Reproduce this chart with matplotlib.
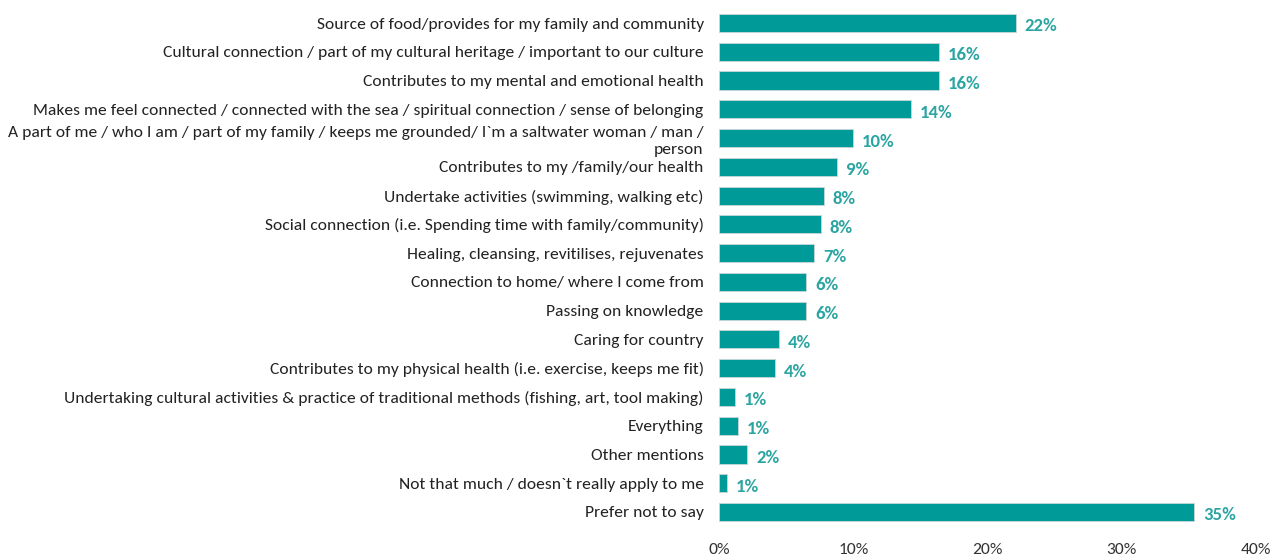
import matplotlib
matplotlib.use("Agg")
import matplotlib.pyplot as plt

# Survey responses and their shares (percent)
kategori = [
    "Source of food/provides for my family and community",
    "Cultural connection / part of my cultural heritage / important to our culture",
    "Contributes to my mental and emotional health",
    "Makes me feel connected / connected with the sea / spiritual connection / sense of belonging",
    "A part of me / who I am / part of my family / keeps me grounded/ I`m a saltwater woman / man /\nperson",
    "Contributes to my /family/our health",
    "Undertake activities (swimming, walking etc)",
    "Social connection (i.e. Spending time with family/community)",
    "Healing, cleansing, revitilises, rejuvenates",
    "Connection to home/ where I come from",
    "Passing on knowledge",
    "Caring for country",
    "Contributes to my physical health (i.e. exercise, keeps me fit)",
    "Undertaking cultural activities & practice of traditional methods (fishing, art, tool making)",
    "Everything",
    "Other mentions",
    "Not that much / doesn`t really apply to me",
    "Prefer not to say",
]
nilai = [22.1, 16.4, 16.4, 14.3, 10.0, 8.8, 7.8, 7.6, 7.1, 6.5, 6.5,
         4.5, 4.2, 1.2, 1.4, 2.1, 0.6, 35.4]
xticks = [0, 10, 20, 30, 40]

plt.rcParams["font.family"] = ["Carlito", "Lato", "DejaVu Sans"]

fig = plt.figure(figsize=(12.76, 5.58), dpi=100)
ax = fig.add_axes([719 / 1276, 23 / 558, (1256 - 719) / 1276, 535 / 558])

posisi = list(range(len(kategori)))
ax.barh(posisi, nilai, height=0.63, color="#009B98",
        edgecolor="#c8d6d6", linewidth=0.6)

for y, v in zip(posisi, nilai):
    ax.text(v + 0.65, y + 0.12, f"{round(v):.0f}%", va="center", ha="left",
            fontsize=13.5, fontweight="bold", color="#2BA5A2")

ax.set_yticks(posisi)
ax.set_yticklabels(kategori, fontsize=12.6, color="#222222", linespacing=1.3)
ax.set_xticks(xticks)
ax.set_xticklabels([f"{t}%" for t in xticks], fontsize=12.6, color="#333333")
ax.set_xlim(0, 40)
ax.set_ylim(17.8, -0.8)
ax.tick_params(axis="both", length=0)
ax.tick_params(axis="y", pad=11)
ax.tick_params(axis="x", pad=6)
for s in ax.spines.values():
    s.set_visible(False)

fig.savefig("out.png", dpi=100)
